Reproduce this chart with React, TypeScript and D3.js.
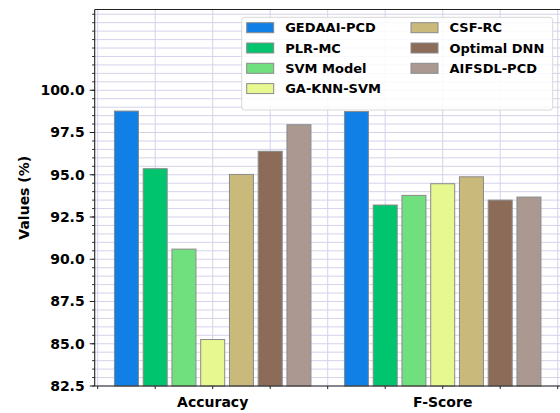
import React from "react";
import * as d3 from "d3";

const categories = ["Accuracy", "F-Score"];
const models = [
  "GEDAAI-PCD",
  "PLR-MC",
  "SVM Model",
  "GA-KNN-SVM",
  "CSF-RC",
  "Optimal DNN",
  "AIFSDL-PCD",
];
const accuracy = [98.77, 95.36, 90.6, 85.25, 95.02, 96.39, 97.96];
const fscore = [98.74, 93.21, 93.78, 94.47, 94.88, 93.5, 93.68];
const yTicks = [82.5, 85.0, 87.5, 90.0, 92.5, 95.0, 97.5, 100.0];

const colors = ["#1180e6", "#00c46e", "#6fe07d", "#e7f891", "#c9b97b", "#8c6b58", "#ab9890"];

const W = 560;
const H = 413;
const left = 94.7, right = 560.7, top = 9.5, bottom = 386;
const font = "'DejaVu Sans', sans-serif";

const App = () => {
  const x = d3.scaleLinear().domain([-0.513, 1.513]).range([left, right]);
  const y = d3.scaleLinear().domain([82.5, 104.78]).range([bottom, top]);
  const slot = 0.125;
  const barW = 24;

  const values = [accuracy, fscore];
  const yMinor = d3.range(82.5, 104.6, 0.5);
  const xMinor = d3.range(-0.5, 1.51, 0.25);

  return (
    <svg width={W} height={H} style={{ position: "absolute", left: 0, top: 0 }} fontFamily={font}>
      <rect width={W} height={H} fill="#fff" />
      {/* grid */}
      <g stroke="#d3d3ec" strokeWidth={1}>
        {yMinor.map((v, i) => (
          <line key={"gy" + i} x1={left} x2={right} y1={y(v)} y2={y(v)} />
        ))}
        {xMinor.map((v, i) => (
          <line key={"gx" + i} x1={x(v)} x2={x(v)} y1={top} y2={bottom} />
        ))}
      </g>
      {/* bars */}
      {categories.map((c, ci) =>
        models.map((m, mi) => {
          const cx = x(ci + (mi - 3) * slot);
          const v = values[ci][mi];
          return (
            <rect
              key={c + m}
              x={cx - barW / 2}
              y={y(v)}
              width={barW}
              height={y(82.5) - y(v)}
              fill={colors[mi]}
              stroke="#8a8a8a"
              strokeWidth={1}
            />
          );
        })
      )}
      {/* spines */}
      <g stroke="#222" strokeWidth={1.1} fill="none">
        <line x1={left} x2={left} y1={top} y2={bottom} />
        <line x1={left} x2={right} y1={bottom} y2={bottom} />
        <line x1={left} x2={right} y1={top} y2={top} />
        <line x1={right} x2={right} y1={top} y2={bottom} />
      </g>
      {/* ticks */}
      <g stroke="#222" strokeWidth={1}>
        {yMinor.map((v, i) => (
          <line key={"ym" + i} x1={left - 2.5} x2={left} y1={y(v)} y2={y(v)} />
        ))}
        {yTicks.map((v, i) => (
          <line key={"yt" + i} x1={left - 5} x2={left} y1={y(v)} y2={y(v)} />
        ))}
        {xMinor.map((v, i) => (
          <line key={"xt" + i} x1={x(v)} x2={x(v)} y1={bottom} y2={bottom + 3} />
        ))}
      </g>
      {yTicks.map((v, i) => (
        <text
          key={"yl" + i}
          x={left - 10}
          y={y(v)}
          dy="0.35em"
          textAnchor="end"
          fontSize={14}
          fontWeight="bold"
        >
          {v.toFixed(1)}
        </text>
      ))}
      {categories.map((c, i) => (
        <text key={c} x={x(i)} y={406.5} textAnchor="middle" fontSize={14} fontWeight="bold">
          {c}
        </text>
      ))}
      <text
        transform={`translate(29,${(top + bottom) / 2}) rotate(-90)`}
        textAnchor="middle"
        fontSize={14}
        fontWeight="bold"
      >
        Values (%)
      </text>
      {/* legend */}
      <rect
        x={241.7}
        y={17.3}
        width={311}
        height={92.7}
        rx={3}
        fill="#fff"
        fillOpacity={0.85}
        stroke="#d8d8d8"
        strokeWidth={1}
      />
      {models.map((m, i) => {
        const col = i < 4 ? 0 : 1;
        const row = i < 4 ? i : i - 4;
        const lx = col === 0 ? 246.7 : 411;
        const ly = 27.7 + row * 20.3;
        return (
          <g key={"lg" + m}>
            <rect x={lx} y={ly - 5} width={27} height={10} fill={colors[i]} stroke="#8a8a8a" strokeWidth={1} />
            <text x={lx + 38.5} y={ly} dy="0.36em" fontSize={13} fontWeight="bold">
              {m}
            </text>
          </g>
        );
      })}
    </svg>
  );
};

export default App;
